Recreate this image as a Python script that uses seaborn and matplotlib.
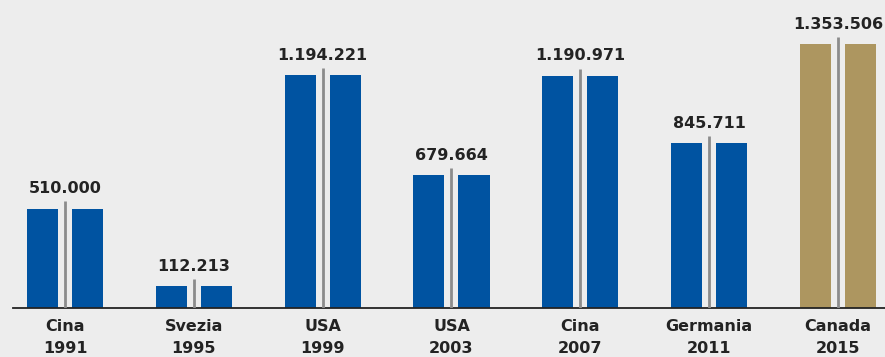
import matplotlib
matplotlib.use("Agg")
import matplotlib.pyplot as plt
import seaborn as sns
import pandas as pd

# data
paesi = ["Cina", "Svezia", "USA", "USA", "Cina", "Germania", "Canada"]
anni = ["1991", "1995", "1999", "2003", "2007", "2011", "2015"]
valori = [510000, 112213, 1194221, 679664, 1190971, 845711, 1353506]
etichette = ["510.000", "112.213", "1.194.221", "679.664", "1.190.971", "845.711", "1.353.506"]

BLU = "#0053A1"
ORO = "#AD9660"
SFONDO = "#EDEDED"
TESTO = "#232323"

categorie = [f"{p}\n{a}" for p, a in zip(paesi, anni)]

# each value is drawn as a pair of identical bars split by a thin grey rule
df = pd.DataFrame({
    "cat": categorie * 2,
    "valore": valori * 2,
    "meta": ["sx"] * len(valori) + ["dx"] * len(valori),
})

sns.set_style("white")
plt.rcParams["font.family"] = ["DejaVu Sans"]

fig = plt.figure(figsize=(8.85, 3.57), dpi=100, facecolor=SFONDO)
ax = fig.add_axes([13 / 885, 49 / 357, 872 / 885, 308 / 357])
ax.set_facecolor(SFONDO)

sns.barplot(
    data=df, x="cat", y="valore", hue="meta",
    order=categorie, hue_order=["sx", "dx"],
    palette=[BLU, BLU], saturation=1, width=0.699, gap=0.311,
    linewidth=0, legend=False, errorbar=None, ax=ax,
)

# Canada in gold
for p in ax.patches:
    idx = round(p.get_x() + p.get_width() / 2)
    if idx == len(valori) - 1:
        p.set_facecolor(ORO)

# grey divider inside each pair
sporgenza = 36000
ax.vlines(range(len(valori)), 0, [v + sporgenza for v in valori],
          color="#8C8C8C", linewidth=2, zorder=3)

for i, (v, t) in enumerate(zip(valori, etichette)):
    ax.annotate(t, (i, v), xytext=(0, 11), textcoords="offset points",
                ha="center", va="baseline", fontsize=11.5,
                fontweight="bold", color=TESTO)

ax.set_xlim(-0.4036, 6.365)
ax.set_ylim(0, 1579000)
ax.set_xlabel("")
ax.set_ylabel("")
ax.set_yticks([])
ax.tick_params(axis="x", length=0, pad=8, labelsize=11.5, labelcolor=TESTO)
for lab in ax.get_xticklabels():
    lab.set_fontweight("bold")
    lab.set_linespacing(1.6)

for s in ["top", "right", "left"]:
    ax.spines[s].set_visible(False)
ax.spines["bottom"].set_color(TESTO)
ax.spines["bottom"].set_linewidth(1.3)

fig.savefig("out.png", dpi=100, facecolor=SFONDO)
